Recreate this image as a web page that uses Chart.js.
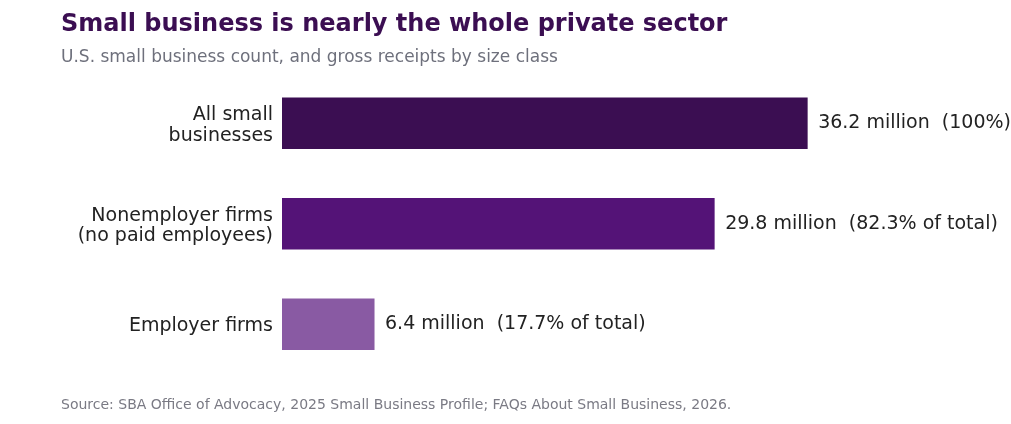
<!DOCTYPE html>
<html>
<head>
<meta charset="utf-8">
<script src="https://cdn.jsdelivr.net/npm/chart.js@4/dist/chart.umd.min.js"></script>
<style>
  html, body { margin: 0; padding: 0; background: #ffffff; }
  #wrap { width: 1011px; height: 424px; }
</style>
</head>
<body>
<div id="wrap"><canvas id="chart" width="1011" height="424"></canvas></div>
<script>
const categories = [
    ["All small", "businesses"],
    ["Nonemployer firms", "(no paid employees)"],
    ["Employer firms"]
];
const firmsMillions = [36.2, 29.8, 6.4];
const sharePercent = [100, 82.3, 17.7];
const barColors = ['#3b0e52', '#541377', '#895aa3'];
const sourceText = "Source: SBA Office of Advocacy, 2025 Small Business Profile; FAQs About Small Business, 2026.";

function valueLabel(i) {
    const share = i === 0 ? '(' + sharePercent[i] + '%)' : '(' + sharePercent[i] + '% of total)';
    return firmsMillions[i] + ' million  ' + share;
}

const barValueLabels = {
    id: 'barValueLabels',
    afterDatasetsDraw(chart) {
        const ctx = chart.ctx;
        const meta = chart.getDatasetMeta(0);
        ctx.save();
        ctx.font = '19px "DejaVu Sans"';
        ctx.fillStyle = '#222222';
        ctx.textAlign = 'left';
        ctx.textBaseline = 'middle';
        meta.data.forEach((bar, i) => {
            ctx.fillText(valueLabel(i), bar.x + 10, bar.y);
        });
        ctx.restore();
    }
};

const sourceNote = {
    id: 'sourceNote',
    afterDraw(chart) {
        const ctx = chart.ctx;
        ctx.save();
        ctx.font = '14px "DejaVu Sans"';
        ctx.fillStyle = '#7a7a84';
        ctx.textAlign = 'left';
        ctx.textBaseline = 'middle';
        ctx.fillText(sourceText, 61, 405);
        ctx.restore();
    }
};

new Chart(
    document.getElementById('chart'),
    {
        type: 'bar',
        data: {
            labels: categories,
            datasets: [
                {
                    data: firmsMillions,
                    backgroundColor: barColors,
                    borderColor: '#ffffff',
                    borderWidth: 0.5,
                    barPercentage: 0.522,
                    categoryPercentage: 1.0
                }
            ]
        },
        options: {
            indexAxis: 'y',
            responsive: false,
            animation: false,
            devicePixelRatio: 1,
            layout: {
                padding: { left: 61, right: 11, top: 0, bottom: 49.5 }
            },
            scales: {
                x: {
                    display: false,
                    min: 0,
                    max: 49.4
                },
                y: {
                    grid: { display: false, drawTicks: false },
                    border: { display: false },
                    ticks: {
                        color: '#222222',
                        padding: 9,
                        labelOffset: 2.3,
                        font: { family: 'DejaVu Sans', size: 19, lineHeight: 1.095 }
                    },
                    afterFit(scale) {
                        scale.width = 221;
                    }
                }
            },
            plugins: {
                legend: { display: false },
                tooltip: { enabled: false },
                title: {
                    display: true,
                    align: 'start',
                    text: 'Small business is nearly the whole private sector',
                    color: '#3b0e52',
                    font: { family: 'DejaVu Sans', size: 24, weight: 'bold', lineHeight: 1.2 },
                    padding: { top: 10.6, bottom: 4 }
                },
                subtitle: {
                    display: true,
                    align: 'start',
                    text: 'U.S. small business count, and gross receipts by size class',
                    color: '#6e707c',
                    font: { family: 'DejaVu Sans', size: 17, lineHeight: 1.2 },
                    padding: { top: 4.4, bottom: 4.8 }
                }
            }
        },
        plugins: [barValueLabels, sourceNote]
    }
);
</script>
</body>
</html>
